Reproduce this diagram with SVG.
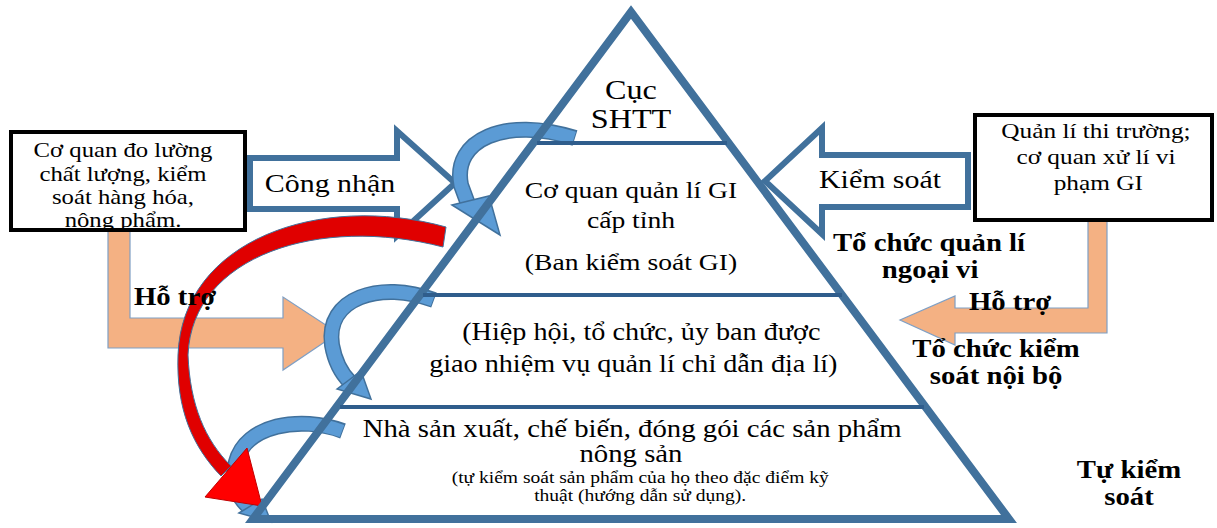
<svg xmlns="http://www.w3.org/2000/svg" width="1217" height="528" viewBox="0 0 1217 528">
<style>
text{font-family:"Liberation Serif","Times New Roman",serif;fill:#000;text-anchor:middle}
.l1{font-size:28px}
.l2{font-size:24px}
.l3{font-size:24.5px}
.l4{font-size:25px}
.s{font-size:17px}
.bx{font-size:21.5px}
.bxr{font-size:22px}
.ar{font-size:26px}
.bb{font-size:25px;font-weight:bold}
.box{fill:#fff;stroke:#000;stroke-width:4}
.blk{fill:#fff;stroke:#41719c;stroke-width:6;stroke-linejoin:miter}
.org{fill:#f4b183;stroke:#7f9fc4;stroke-width:1.2}
.cvo{fill:none;stroke:#41719c;stroke-width:16}
.cvi{fill:none;stroke:#5b9bd5;stroke-width:13}
.cvh{fill:#5b9bd5;stroke:#41719c;stroke-width:1.5}
.tri{fill:none;stroke:#41719c;stroke-width:8;stroke-linejoin:miter}
.hl{stroke:#2f5d8c;stroke-width:4}
</style>
<rect width="1217" height="528" fill="#fff"/>
<g id="connectors">
  <path id="arrow-cong-nhan" class="blk" d="M250,158 L397,158 L397,131 L455,183 L397,236 L397,209 L250,209 Z"/>
  <path id="arrow-kiem-soat" class="blk" d="M968,155 L822,155 L822,128 L765,181 L822,234 L822,207 L968,207 Z"/>
  <path id="arrow-ho-tro-left" class="org" d="M108,231 L130,231 L130,318 L283,318 L283,297 L338,333 L283,370 L283,348 L108,348 Z"/>
  <path id="arrow-ho-tro-right" class="org" d="M1088,221 L1107,221 L1107,333 L955,333 L955,345 L900,320 L955,296 L955,308 L1088,308 Z"/>
  <g id="curve1">
    <path class="cvo" d="M575,138 C505,116 452,140 461,185 L468,204"/>
    <path class="cvi" d="M574,138 C505,116 452,140 461,185 L468,204"/>
    <path class="cvh" d="M452,205 L489,196 L500,235 Z"/>
  </g>
  <g id="curve2">
    <path class="cvo" d="M434,300 C380,280 325,298 332,345 C335,362 342,374 350,382"/>
    <path class="cvi" d="M433,300 C380,280 325,298 332,345 C335,362 342,374 350,382"/>
    <path class="cvh" d="M337,389 L361,371 L371,399 Z"/>
  </g>
  <g id="curve3">
    <path class="cvo" d="M343,431 C300,415 245,425 236,462 C230,485 240,500 250,508"/>
    <path class="cvi" d="M342,431 C300,415 245,425 236,462 C230,485 240,500 250,508"/>
    <path class="cvh" d="M239,513 L262,499 L271,522 Z"/>
  </g>
  <g id="red-arrow">
    <path fill="#e00000" stroke="#41719c" stroke-width="1" d="M446,227 C320,192 182,240 178,355 C176,410 193,447 221,476 L231,466 C205,440 190,405 188,355 C192,255 320,215 443,247 Z"/>
    <path fill="#ff0000" stroke="#c00000" stroke-width="1" d="M247,448 L205,497 L262,506 Z"/>
  </g>
</g>
<g id="pyramid">
  <path class="tri" d="M631,12 L1009,519 L253,519 Z"/>
  <line class="hl" x1="537" y1="143" x2="727" y2="143"/>
  <line class="hl" x1="423" y1="295" x2="842" y2="295"/>
  <line class="hl" x1="340" y1="407" x2="924" y2="407"/>
</g>
<g id="level1">
  <g transform="matrix(1.15 0 0 1 -94.65 0)">
    <text class="l1" x="631" y="99">Cục</text>
    <text class="l1" x="631" y="128">SHTT</text>
  </g>
</g>
<g id="level2">
  <g transform="matrix(1.15 0 0 1 -94.65 0)">
    <text class="l2" x="631" y="198">Cơ quan quản lí GI</text>
    <text class="l2" x="631" y="228">cấp tỉnh</text>
    <text class="l2" x="631" y="270">(Ban kiểm soát GI)</text>
  </g>
</g>
<g id="level3">
  <g transform="matrix(1.15 0 0 1 -94.65 0)">
    <text class="l3" x="640" y="340">(Hiệp hội, tổ chức, ủy ban được</text>
    <text class="l3" x="633" y="372">giao nhiệm vụ quản lí chỉ dẫn địa lí)</text>
  </g>
</g>
<g id="level4">
  <g transform="matrix(1.15 0 0 1 -94.65 0)">
    <text class="l4" x="632" y="437">Nhà sản xuất, chế biến, đóng gói các sản phẩm</text>
    <text class="l4" x="631" y="462">nông sản</text>
    <text class="s" x="639" y="483">(tự kiểm soát sản phẩm của họ theo đặc điểm kỹ</text>
    <text class="s" x="639" y="501">thuật (hướng dẫn sử dụng).</text>
  </g>
</g>
<g id="box-left">
  <rect class="box" x="11" y="132" width="234" height="98"/>
  <g transform="matrix(1.15 0 0 1 -18.45 0)">
    <text class="bx" x="123" y="157">Cơ quan đo lường</text>
    <text class="bx" x="123" y="181">chất lượng, kiểm</text>
    <text class="bx" x="123" y="204">soát hàng hóa,</text>
    <text class="bx" x="123" y="227">nông phẩm.</text>
  </g>
</g>
<g id="box-right">
  <rect class="box" x="975" y="115" width="237" height="105"/>
  <g transform="matrix(1.15 0 0 1 -164.4 0)">
    <text class="bxr" x="1096" y="138">Quản lí  thi trường;</text>
    <text class="bxr" x="1096" y="164">cơ quan xử lí vi</text>
    <text class="bxr" x="1098" y="190">phạm GI</text>
  </g>
</g>
<g id="label-cong-nhan">
  <g transform="matrix(1.15 0 0 1 -49.5 0)"><text class="ar" x="330" y="192">Công nhận</text></g>
</g>
<g id="label-kiem-soat">
  <g transform="matrix(1.15 0 0 1 -132 0)"><text class="ar" x="880" y="188">Kiểm soát</text></g>
</g>
<g id="label-ho-tro-left">
  <g transform="matrix(1.15 0 0 1 -26.25 0)"><text class="bb" x="175" y="305">Hỗ trợ</text></g>
</g>
<g id="label-ho-tro-right">
  <g transform="matrix(1.15 0 0 1 -151.5 0)"><text class="bb" x="1010" y="310">Hỗ trợ</text></g>
</g>
<g id="label-ngoai-vi">
  <g transform="matrix(1.15 0 0 1 -139.35 0)">
    <text class="bb" x="929" y="251">Tổ chức quản lí</text>
    <text class="bb" x="930" y="278">ngoại vi</text>
  </g>
</g>
<g id="label-noi-bo">
  <g transform="matrix(1.15 0 0 1 -149.4 0)">
    <text class="bb" x="996" y="357">Tổ chức kiểm</text>
    <text class="bb" x="996" y="384">soát nội bộ</text>
  </g>
</g>
<g id="label-tu-kiem-soat">
  <g transform="matrix(1.15 0 0 1 -169.35 0)">
    <text class="bb" x="1129" y="478">Tự kiểm</text>
    <text class="bb" x="1129" y="505">soát</text>
  </g>
</g>
</svg>
